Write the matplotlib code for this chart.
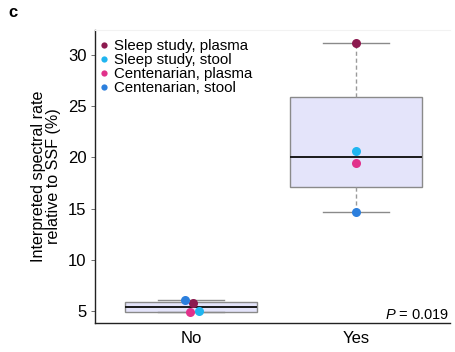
import numpy as np
import matplotlib
matplotlib.use("Agg")
import matplotlib.pyplot as plt
from matplotlib.lines import Line2D

plt.rcParams['font.family'] = ['Liberation Sans', 'DejaVu Sans']
plt.rcParams['mathtext.fontset'] = 'custom'
plt.rcParams['mathtext.it'] = 'Liberation Sans:italic'
plt.rcParams['mathtext.rm'] = 'Liberation Sans'

# Data
groups = ["No", "Yes"]
series = ["Sleep study, plasma", "Sleep study, stool",
          "Centenarian, plasma", "Centenarian, stool"]
colors = ["#8C1A4F", "#20B5F0", "#E1318B", "#2C7FDD"]
no_values = [5.75, 5.0, 4.87, 6.1]
yes_values = [31.2, 20.6, 19.5, 14.64]
no_jitter = [0.01, 0.048, -0.006, -0.036]
yes_jitter = [0.0, 0.0, 0.0, 0.0]
p_label = "0.019"


def tukey_stats(vals, label):
    v = np.sort(np.asarray(vals, dtype=float))
    n = len(v)
    med = np.median(v)
    half = (n + 1) // 2
    lower = v[:half] if n % 2 else v[:n // 2]
    upper = v[n - half:] if n % 2 else v[n // 2:]
    return dict(med=med, q1=np.median(lower), q3=np.median(upper),
                whislo=v[0], whishi=v[-1], fliers=[], label=label)


fig = plt.figure(figsize=(4.55, 3.52), dpi=100)
ax = fig.add_axes([0.2088, 0.0824, 0.7802, 0.8324])

stats = [tukey_stats(no_values, groups[0]), tukey_stats(yes_values, groups[1])]
ax.bxp(stats, positions=[1, 2], widths=0.8, patch_artist=True,
       showfliers=False,
       boxprops=dict(facecolor="#E4E4FA", edgecolor="#8A8A8A", linewidth=1.0),
       medianprops=dict(color="#1A1A1A", linewidth=1.4),
       whiskerprops=dict(color="#9A9A9A", linewidth=1.0, linestyle=(0, (3, 2))),
       capprops=dict(color="#8A8A8A", linewidth=1.0),
       capwidths=0.4)

for vals, jit, pos in [(no_values, no_jitter, 1), (yes_values, yes_jitter, 2)]:
    for v, j, c in zip(vals, jit, colors):
        ax.plot(pos + j, v, 'o', color=c, markersize=6.5, markeredgewidth=0,
                zorder=5)

ax.set_xlim(0.418, 2.57)
ax.set_ylim(3.83, 32.44)
ax.set_xticks([1, 2])
ax.set_xticklabels(groups, fontsize=12)
ax.set_yticks([5, 10, 15, 20, 25, 30])
ax.tick_params(axis='y', labelsize=12, length=3, width=0.6, color="#555555", pad=3)
ax.tick_params(axis='x', length=0, pad=6)

ax.spines['left'].set_color('#222222')
ax.spines['bottom'].set_color('#222222')
ax.spines['left'].set_linewidth(1.0)
ax.spines['bottom'].set_linewidth(1.0)
ax.spines['top'].set_color('#F2F2F2')
ax.spines['right'].set_visible(False)

ax.set_ylabel("Interpreted spectral rate\nrelative to SSF (%)", fontsize=11.6,
              linespacing=1.05, labelpad=5)

handles = [Line2D([], [], marker='o', linestyle='', color=c, markersize=4.5,
                  markeredgewidth=0) for c in colors]
ax.legend(handles, series, loc='upper left', bbox_to_anchor=(-0.004, 0.985),
          frameon=False, fontsize=10.8, handletextpad=0.25, labelspacing=0.0,
          handlelength=0.8, borderaxespad=0.2, borderpad=0.1)

ax.text(0.998, 0.005, r"$P$ = " + p_label, transform=ax.transAxes,
        ha='right', va='bottom', fontsize=10.5)

fig.text(0.018, 0.965, "c", fontsize=12, fontweight='bold', ha='left', va='center')

fig.savefig("out.png", dpi=100)
